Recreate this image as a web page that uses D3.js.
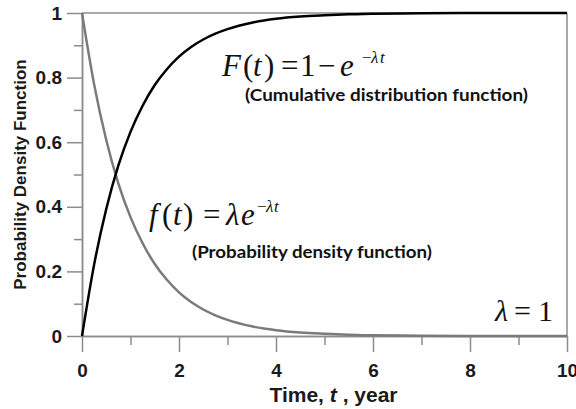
<!DOCTYPE html>
<html>
<head>
<meta charset="utf-8">
<script src="https://cdn.jsdelivr.net/npm/d3@7"></script>
<style>
  html, body { margin: 0; padding: 0; background: #fff; }
  svg { display: block; }
</style>
</head>
<body>
<svg id="chart" width="576" height="409"></svg>
<script>
// Time points (years) at which the two curves are sampled
const timeYears = [0, 0.25, 0.5, 0.75, 1, 1.25, 1.5, 1.75, 2, 2.25, 2.5, 2.75, 3,
                   3.5, 4, 4.5, 5, 5.5, 6, 7, 8, 9, 10];
// Probability density f(t), lambda = 1
const pdfValues = [1.000, 0.779, 0.607, 0.472, 0.368, 0.287, 0.223, 0.174, 0.135, 0.105,
                   0.082, 0.064, 0.050, 0.030, 0.018, 0.011, 0.007, 0.004, 0.002, 0.001,
                   0.000, 0.000, 0.000];
// Cumulative distribution F(t), lambda = 1
const cdfValues = [0.000, 0.221, 0.393, 0.528, 0.632, 0.713, 0.777, 0.826, 0.865, 0.895,
                   0.918, 0.936, 0.950, 0.970, 0.982, 0.989, 0.993, 0.996, 0.998, 0.999,
                   1.000, 1.000, 1.000];

const yMajorTicks = [0, 0.2, 0.4, 0.6, 0.8, 1];
const yMinorTicks = [0.1, 0.3, 0.5, 0.7, 0.9];
const yTickLabels = ["0", "0.2", "0.4", "0.6", "0.8", "1"];
const xMajorTicks = [0, 2, 4, 6, 8, 10];
const xMinorTicks = [1, 3, 5, 7, 9];
const xTickLabels = ["0", "2", "4", "6", "8", "10"];

const svg = d3.select("#chart");
const plotLeft = 82, plotRight = 567, plotTop = 13, plotBottom = 336;
const x = d3.scaleLinear().domain([0, 10]).range([plotLeft, plotRight]);
const y = d3.scaleLinear().domain([0, 1]).range([plotBottom, plotTop]);

const axisColor = "#8c8c8c";
const tickFont = "'Liberation Sans', Arial, sans-serif";

// frame: top and right edges
svg.append("line").attr("x1", x(0)).attr("x2", x(10)).attr("y1", y(1)).attr("y2", y(1))
  .attr("stroke", axisColor).attr("stroke-width", 1.5);
svg.append("line").attr("x1", x(10)).attr("x2", x(10)).attr("y1", y(1)).attr("y2", y(0))
  .attr("stroke", axisColor).attr("stroke-width", 1.5);

function styleAxis(g) {
  g.select(".domain").attr("stroke", axisColor).attr("stroke-width", 1.5);
  g.selectAll(".tick line").attr("stroke", axisColor).attr("stroke-width", 1.5);
  g.selectAll(".tick text").attr("fill", "#1a1a1a")
    .attr("font-family", tickFont).attr("font-weight", "bold").attr("font-size", 19);
}

// y axis: major labelled ticks, then short minor ticks
const yMajor = svg.append("g").attr("transform", `translate(${plotLeft},0)`)
  .call(d3.axisLeft(y).tickValues(yMajorTicks).tickSize(15).tickPadding(5)
    .tickFormat((d, i) => yTickLabels[i]).tickSizeOuter(0));
styleAxis(yMajor);
const yMinor = svg.append("g").attr("transform", `translate(${plotLeft},0)`)
  .call(d3.axisLeft(y).tickValues(yMinorTicks).tickSize(8).tickFormat("").tickSizeOuter(0));
styleAxis(yMinor);

// x axis
const xMajor = svg.append("g").attr("transform", `translate(0,${plotBottom})`)
  .call(d3.axisBottom(x).tickValues(xMajorTicks).tickSize(16).tickPadding(12)
    .tickFormat((d, i) => xTickLabels[i]).tickSizeOuter(0));
styleAxis(xMajor);
const xMinor = svg.append("g").attr("transform", `translate(0,${plotBottom})`)
  .call(d3.axisBottom(x).tickValues(xMinorTicks).tickSize(9).tickFormat("").tickSizeOuter(0));
styleAxis(xMinor);

// axis titles
svg.append("text")
  .attr("transform", `translate(26,${(plotTop + plotBottom) / 2}) rotate(-90)`)
  .attr("text-anchor", "middle")
  .attr("font-family", tickFont).attr("font-weight", "bold").attr("font-size", 17)
  .attr("fill", "#1a1a1a")
  .text("Probability Density Function");

const xTitle = svg.append("text")
  .attr("x", (plotLeft + plotRight) / 2 + 9).attr("y", 402)
  .attr("text-anchor", "middle")
  .attr("font-family", tickFont).attr("font-weight", "bold").attr("font-size", 21)
  .attr("fill", "#1a1a1a");
xTitle.append("tspan").text("Time, ");
xTitle.append("tspan").attr("font-style", "italic").text("t");
xTitle.append("tspan").text(" , year");

// curves
const line = d3.line().x(d => x(d[0])).y(d => y(d[1])).curve(d3.curveMonotoneX);
svg.append("path")
  .datum(timeYears.map((t, i) => [t, pdfValues[i]]))
  .attr("d", line).attr("fill", "none")
  .attr("stroke", "#7a7a7a").attr("stroke-width", 2.5);
svg.append("path")
  .datum(timeYears.map((t, i) => [t, cdfValues[i]]))
  .attr("d", line).attr("fill", "none")
  .attr("stroke", "#000").attr("stroke-width", 2.5);

// formula annotations, each glyph group placed like an equation editor lays it out
const serif = "'Liberation Serif', 'Times New Roman', serif";

function formula(baseline, size, parts) {
  const t = svg.append("text")
    .attr("font-family", serif).attr("font-size", size).attr("fill", "#111");
  parts.forEach(p => {
    t.append("tspan")
      .attr("x", p.x)
      .attr("y", p.sup ? baseline - 13 : baseline)
      .attr("font-size", p.sup ? 17 : null)
      .attr("font-style", p.i ? "italic" : null)
      .text(p.s);
  });
  return t;
}

formula(76, 31, [
  {s: "F", i: true, x: 222}, {s: "(", x: 243}, {s: "t", i: true, x: 253}, {s: ")", x: 264},
  {s: "=", x: 281}, {s: "1", x: 300}, {s: "\u2212", x: 318}, {s: "e", i: true, x: 340},
  {s: "\u2212", sup: true, x: 362}, {s: "\u03bb", sup: true, i: true, x: 371},
  {s: "t", sup: true, i: true, x: 380}
]);

formula(225, 31, [
  {s: "f", i: true, x: 149}, {s: "(", x: 162}, {s: "t", i: true, x: 173}, {s: ")", x: 183},
  {s: "=", x: 203}, {s: "\u03bb", i: true, x: 226}, {s: "e", i: true, x: 241},
  {s: "\u2212", sup: true, x: 257}, {s: "\u03bb", sup: true, i: true, x: 266},
  {s: "t", sup: true, i: true, x: 274}
]);

formula(321, 30, [
  {s: "\u03bb", i: true, x: 495}, {s: "=", x: 514}, {s: "1", x: 538}
]);

// descriptive captions
const captionFont = "Lato, 'Open Sans', sans-serif";
svg.append("text").attr("x", 245).attr("y", 101)
  .attr("font-family", captionFont).attr("font-weight", "bold").attr("font-size", 17.5)
  .attr("fill", "#111").attr("textLength", 283).attr("lengthAdjust", "spacingAndGlyphs")
  .text("(Cumulative distribution function)");
svg.append("text").attr("x", 192).attr("y", 258)
  .attr("font-family", captionFont).attr("font-weight", "bold").attr("font-size", 17.5)
  .attr("fill", "#111").attr("textLength", 240).attr("lengthAdjust", "spacingAndGlyphs")
  .text("(Probability density function)");
</script>
</body>
</html>
